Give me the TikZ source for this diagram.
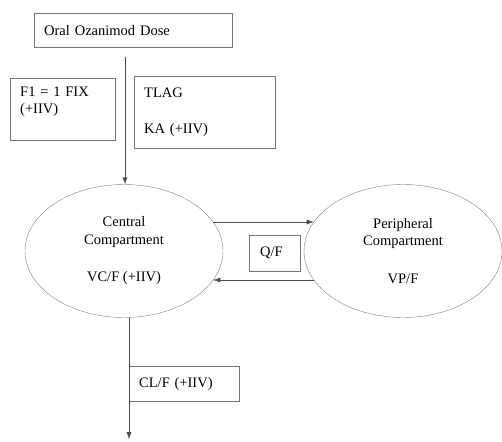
\documentclass[tikz,border=0pt]{standalone}
\usepackage{fontspec}
\setmainfont{Liberation Serif}
\usetikzlibrary{shapes.geometric, arrows.meta}
\begin{document}
\begin{tikzpicture}[x=1pt, y=-1pt, font=\fontsize{14.5}{17.5}\selectfont,
  box/.style={rectangle, draw=black!55, inner xsep=10pt, inner ysep=0pt, align=left, anchor=north west},
  comp/.style={ellipse, draw=black!50, minimum width=198pt, minimum height=133pt, inner sep=0pt, align=center},
  flow/.style={draw=black!70, -{Latex[length=7pt, width=5pt]}}]
\useasboundingbox (0,0) rectangle (502,441);
% parameter boxes
\node[box, text width=178pt, minimum height=34pt] (dose) at (34,13) {Oral Ozanimod Dose};
\node[box, text width=85pt, minimum height=62pt] (f1) at (10,78) {F1 = 1 FIX\\(+IIV)\\\mbox{}};
\node[box, text width=121pt, minimum height=72pt] (ka) at (134,76) {TLAG\\[18pt]KA (+IIV)};
% compartments
\node[comp] (central) at (124,251) {Central\\Compartment\\[20pt]VC/F (+IIV)};
\node[comp] (periph) at (403,251) {Peripheral\\Compartment\\[20pt]VP/F};
\node[box, inner xsep=11pt, text width=29pt, minimum height=36pt] (qf) at (249,235) {Q/F};
\node[box, text width=90pt, minimum height=35pt] (clf) at (129,366) {CL/F (+IIV)};
\coordinate (doseout) at (125,57);
\coordinate (elim) at (129,439);
\draw[flow] (doseout) -- (central.north -| doseout);
\draw[flow] (central.18) -- (periph.162);
\draw[flow] (periph.198) -- (central.342);
\draw[flow] (central.south -| elim) -- (elim);
\end{tikzpicture}
\end{document}
